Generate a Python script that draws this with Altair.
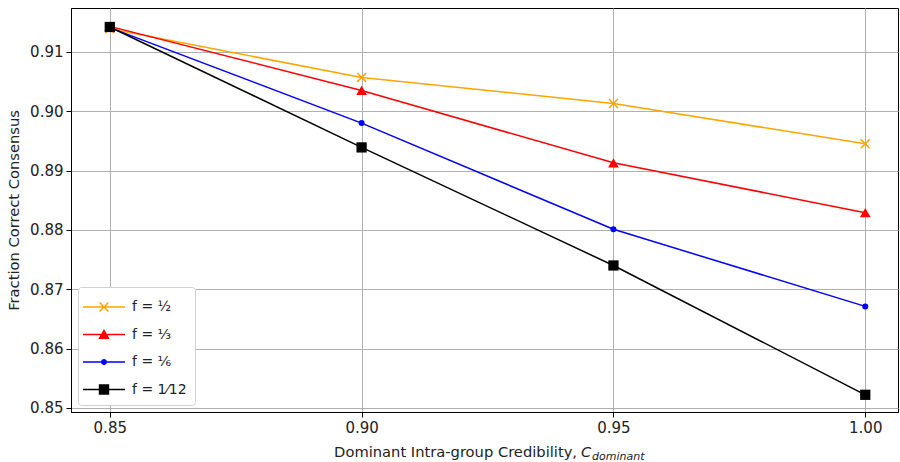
import json
import altair as alt
import pandas as pd

# ---- data ----
c_values = [0.85, 0.90, 0.95, 1.00]
series_labels = ["f = ½", "f = ⅓", "f = ⅙", "f = 1⁄12"]
f_half = [0.9139, 0.9057, 0.9013, 0.8945]
f_third = [0.9143, 0.9035, 0.8913, 0.8829]
f_sixth = [0.9141, 0.8980, 0.8801, 0.8671]
f_twelfth = [0.9142, 0.8939, 0.8740, 0.8522]
series_values = [f_half, f_third, f_sixth, f_twelfth]

x_ticks = [0.85, 0.90, 0.95, 1.00]
y_ticks = [0.85, 0.86, 0.87, 0.88, 0.89, 0.90, 0.91]

# ---- styles ----
colors = ["#ffa500", "#ff0000", "#0000ff", "#000000"]
X_PATH = ("M-1,-0.78L-0.78,-1L0,-0.22L0.78,-1L1,-0.78L0.22,0L1,0.78L0.78,1"
          "L0,0.22L-0.78,1L-1,0.78L-0.22,0Z")
marker_shapes = [X_PATH, "triangle-up", "circle", "square"]
marker_sizes = [100, 115, 36, 105]

# legend symbols: a short line segment with the marker on it (built in px, scaled to unit box)
LEG_R = 12.0  # sqrt(symbolSize)/2


def _pt(x, y):
    return "{:.3f},{:.3f}".format(x / LEG_R, y / LEG_R)


def _poly(pts):
    return "M" + "L".join(_pt(x, y) for x, y in pts) + "Z"


line_seg = _poly([(-21, -0.75), (21, -0.75), (21, 0.75), (-21, 0.75)])
x_pts = [(-1, -0.78), (-0.78, -1), (0, -0.22), (0.78, -1), (1, -0.78), (0.22, 0),
         (1, 0.78), (0.78, 1), (0, 0.22), (-0.78, 1), (-1, 0.78), (-0.22, 0)]
x_mark = _poly([(5 * a, 5 * b) for a, b in x_pts])
tri_mark = _poly([(0, -5.6), (5.8, 4.4), (-5.8, 4.4)])
rc = 3.0 / LEG_R
circ_mark = "M{a:.3f},0A{r:.3f},{r:.3f} 0 1,1 {b:.3f},0A{r:.3f},{r:.3f} 0 1,1 {a:.3f},0Z".format(
    a=-rc, b=rc, r=rc)
sq_mark = _poly([(-5.2, -5.2), (5.2, -5.2), (5.2, 5.2), (-5.2, 5.2)])
legend_shapes = [line_seg + x_mark, line_seg + tri_mark, line_seg + circ_mark, line_seg + sq_mark]

rows = []
for lab, vals in zip(series_labels, series_values):
    for c, v in zip(c_values, vals):
        rows.append({"C": c, "frac": v, "series": lab})
df = pd.DataFrame(rows)

FONT = "DejaVu Sans"

x_enc = alt.X(
    "C:Q",
    scale=alt.Scale(domain=[0.8423, 1.0065], nice=False, zero=False),
    axis=alt.Axis(values=x_ticks, format=".2f", title=None),
)
y_enc = alt.Y(
    "frac:Q",
    scale=alt.Scale(domain=[0.8493, 0.9174], nice=False, zero=False),
    axis=alt.Axis(values=y_ticks, format=".2f", title="Fraction Correct Consensus",
                  titleFontSize=14.7, titleFontWeight="normal", titlePadding=8),
)

legend = alt.Legend(
    title=None, orient="bottom-left", offset=7, fillColor="white",
    strokeColor="#d0d0d0", padding=8, cornerRadius=3, labelFontSize=14,
    labelFont=FONT, labelColor="#222222", rowPadding=8.5, symbolSize=int((2 * LEG_R) ** 2),
    symbolStrokeWidth=0, symbolOpacity=1, symbolOffset=6, labelOffset=16,
)

color_scale = alt.Scale(domain=series_labels, range=colors)

base = alt.Chart(df)

lines = base.mark_line(strokeWidth=1.5).encode(
    x=x_enc, y=y_enc,
    color=alt.Color("series:N", scale=color_scale, legend=None),
)

size_expr = "{}[indexof({}, datum.series)]".format(
    json.dumps(marker_sizes), json.dumps(series_labels, ensure_ascii=False))

points = base.transform_calculate(msize=size_expr).mark_point(filled=True, opacity=1).encode(
    x=x_enc, y=y_enc,
    color=alt.Color("series:N", scale=color_scale, legend=None),
    shape=alt.Shape("series:N", scale=alt.Scale(domain=series_labels, range=marker_shapes), legend=None),
    size=alt.Size("msize:Q", scale=None),
)

legend_layer = base.transform_filter("false").mark_point(filled=True, opacity=1).encode(
    x=x_enc, y=y_enc,
    color=alt.Color("series:N", scale=color_scale, legend=legend),
    shape=alt.Shape("series:N", scale=alt.Scale(domain=series_labels, range=legend_shapes), legend=legend),
)

title_main = alt.Chart(pd.DataFrame({"t": ["Dominant Intra-group Credibility,"]})).mark_text(
    align="right", baseline="alphabetic", fontSize=14.7, font=FONT, color="#222222"
).encode(x=alt.value(506), y=alt.value(449), text="t:N")

title_c = alt.Chart(pd.DataFrame({"t": ["C"]})).mark_text(
    align="left", baseline="alphabetic", fontSize=14.7, font=FONT, fontStyle="italic", color="#222222"
).encode(x=alt.value(510), y=alt.value(449), text="t:N")

title_sub = alt.Chart(pd.DataFrame({"t": ["dominant"]})).mark_text(
    align="left", baseline="alphabetic", fontSize=11, font=FONT, fontStyle="italic", color="#222222"
).encode(x=alt.value(521), y=alt.value(452), text="t:N")

chart = alt.layer(lines, points, legend_layer, title_main, title_c, title_sub).resolve_scale(
    shape="independent", color="independent"
).properties(
    width=827, height=404,
    autosize=alt.AutoSizeParams(type="none"),
    padding={"left": 71, "top": 8, "right": 2, "bottom": 50},
    background="white",
).configure_view(
    stroke="black", strokeWidth=1
).configure_axis(
    labelFont=FONT, titleFont=FONT, labelFontSize=15, labelColor="#222222",
    titleColor="#222222", grid=True, gridColor="#b0b0b0", gridWidth=1,
    domainColor="black", tickColor="black", tickSize=5, labelPadding=3,
)

chart.save("out.html", embed_options={"renderer": "svg", "actions": False})
